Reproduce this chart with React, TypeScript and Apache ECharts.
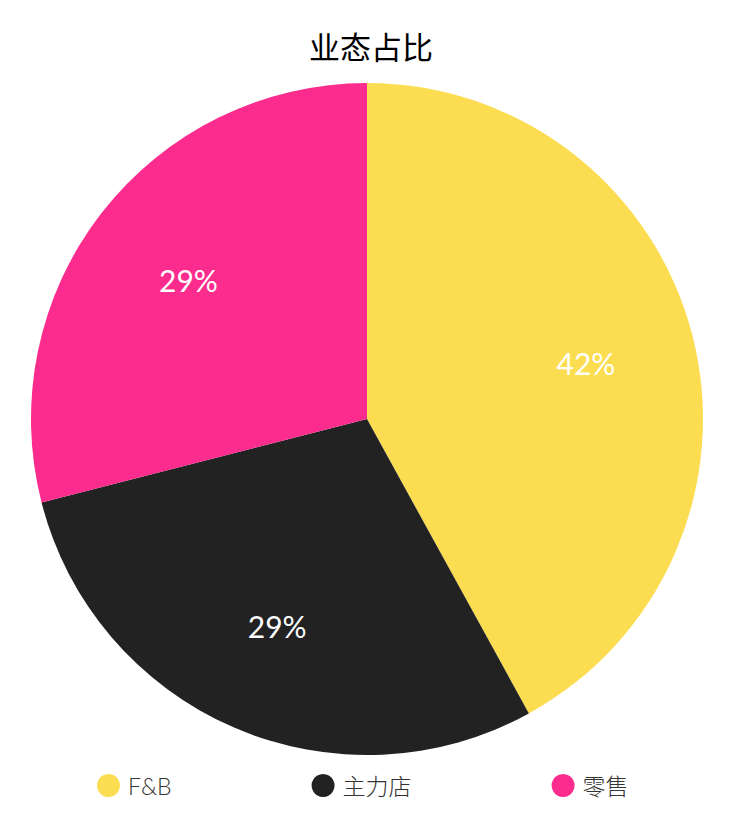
import { useEffect, useRef } from 'react';
import * as echarts from 'echarts';

const categories = ['F&B', '主力店', '零售'];
const shares = [42, 29, 29];
const colors = ['#FCDD52', '#222222', '#FC2C8E'];

export default function App() {
  const ref = useRef<HTMLDivElement>(null);

  useEffect(() => {
    document.body.style.margin = '0';
    if (ref.current) {
      const chart = echarts.init(ref.current, null, { renderer: 'svg' });
      const data = categories.map((name, i) => ({ name, value: shares[i] }));
      chart.setOption({
        animation: false,
        color: colors,
        textStyle: { fontFamily: 'Lato, "Noto Sans CJK SC", sans-serif' },
        title: {
          text: '业态占比',
          left: 'center',
          top: 25,
          textStyle: { fontSize: 31, fontWeight: 'normal', color: '#000', fontFamily: '"Noto Sans CJK SC", sans-serif' }
        },
        legend: {
          data: categories,
          left: 92,
          top: 769,
          icon: 'circle',
          itemWidth: 23,
          itemHeight: 23,
          itemGap: 140,
          textStyle: {
            fontSize: 23,
            color: '#333',
            fontWeight: 300,
            padding: [0, 0, 0, 3],
            fontFamily: 'Lato, "Noto Sans CJK SC", sans-serif'
          }
        },
        series: [
          {
            type: 'pie',
            center: [367, 419],
            radius: 336,
            startAngle: 90,
            clockwise: true,
            data,
            label: { show: false },
            labelLine: { show: false },
            emphasis: { disabled: true }
          },
          {
            type: 'pie',
            center: [367, 419],
            radius: 446,
            startAngle: 90,
            clockwise: true,
            silent: true,
            data,
            itemStyle: { color: 'transparent' },
            label: {
              show: true,
              position: 'inside',
              formatter: '{d}%',
              color: '#fff',
              fontSize: 30,
              fontFamily: 'Lato, sans-serif'
            },
            labelLine: { show: false },
            emphasis: { disabled: true }
          }
        ]
      });
      return () => {
        chart.dispose();
      };
    }
  }, []);

  return <div ref={ref} style={{ width: 742, height: 838 }} />;
}
